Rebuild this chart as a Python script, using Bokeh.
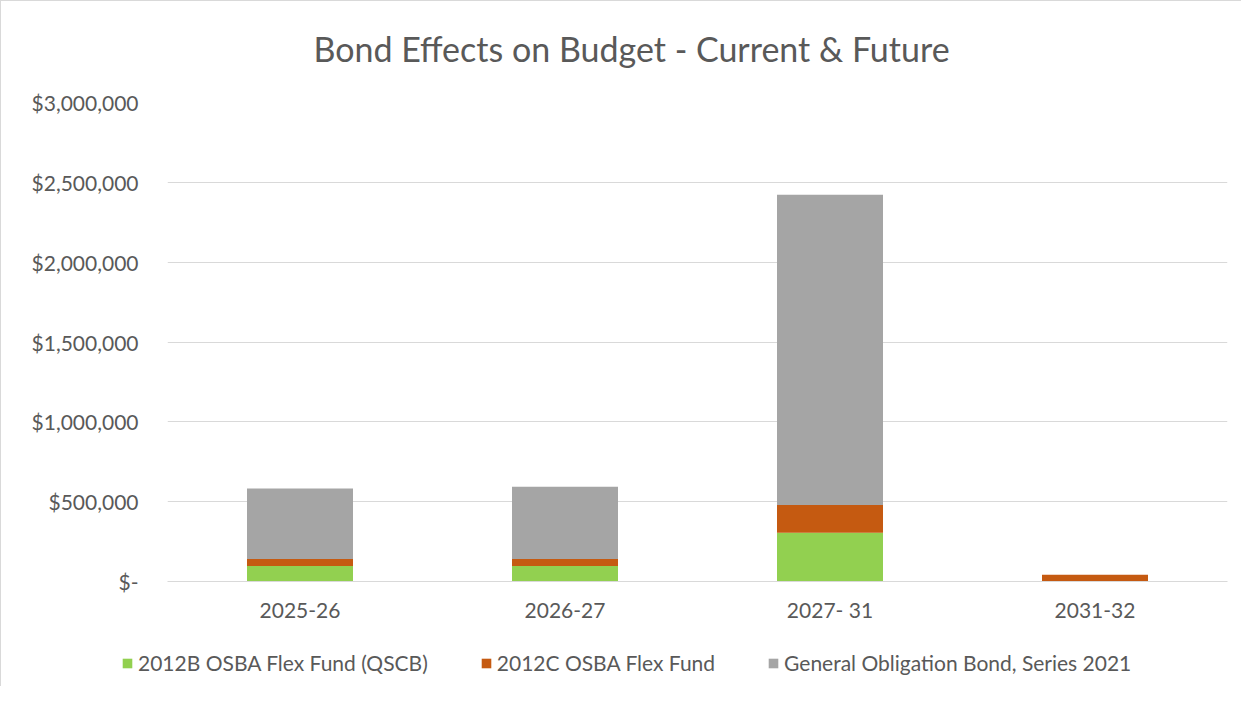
from bokeh.plotting import figure
from bokeh.layouts import column
from bokeh.models import FixedTicker, Legend, LegendItem, Range1d, Label
from bokeh.embed import file_html
from bokeh.resources import INLINE

# ---- data ----
title_text = "Bond Effects on Budget - Current & Future"
periods = ["2025-26", "2026-27", "2027- 31", "2031-32"]
flex_2012b = [97000, 97000, 305000, 0]
flex_2012c = [44000, 44000, 174000, 43000]
go_2021 = [441000, 453000, 1943000, 0]
series_names = ["2012B OSBA Flex Fund (QSCB)", "2012C OSBA Flex Fund",
                "General Obligation Bond, Series 2021"]
series_colors = ["#92D050", "#C55A11", "#A5A5A5"]
y_ticks = [0, 500000, 1000000, 1500000, 2000000, 2500000, 3000000]
y_tick_labels = ["$-", "$500,000", "$1,000,000", "$1,500,000",
                 "$2,000,000", "$2,500,000", "$3,000,000"]

FONT = "Lato"
TXT = "#595959"
W = 1240

source = dict(period=periods, b=flex_2012b, c=flex_2012c, g=go_2021)

# ---- title strip ----
tf = figure(width=W, height=80, output_backend="svg", toolbar_location=None,
            x_axis_type=None, y_axis_type=None,
            min_border_left=0, min_border_right=0,
            min_border_top=0, min_border_bottom=0)
tf.outline_line_color = None
tf.xgrid.grid_line_color = None
tf.ygrid.grid_line_color = None
tf.add_layout(Label(x=630, y=33, x_units="screen", y_units="screen",
                    text=title_text, text_align="center",
                    text_baseline="middle", text_font=FONT,
                    text_font_size="34px", text_color=TXT))

# ---- main chart ----
p = figure(x_range=periods, y_range=Range1d(0, 3000000),
           width=W, height=565, output_backend="svg",
           toolbar_location=None,
           min_border_left=166, min_border_right=14,
           min_border_top=21, min_border_bottom=65)

renderers = p.vbar_stack(["b", "c", "g"], x="period", width=0.4,
                         color=series_colors, source=source,
                         line_color=None)

p.yaxis.ticker = FixedTicker(ticks=y_ticks)
p.yaxis.major_label_overrides = {t: l for t, l in zip(y_ticks, y_tick_labels)}
p.yaxis.axis_line_color = None
p.yaxis.major_tick_line_color = None
p.yaxis.minor_tick_line_color = None
p.yaxis.major_label_standoff = 23
p.yaxis.major_label_text_font = FONT
p.yaxis.major_label_text_font_size = "21px"
p.yaxis.major_label_text_color = TXT

p.xaxis.axis_line_color = "#D9D9D9"
p.xaxis.major_tick_line_color = None
p.xaxis.minor_tick_line_color = None
p.xaxis.major_label_standoff = 9
p.xaxis.major_label_text_font = FONT
p.xaxis.major_label_text_font_size = "21px"
p.xaxis.major_label_text_color = TXT

p.xgrid.grid_line_color = None
p.ygrid.grid_line_color = "#D9D9D9"
p.ygrid.ticker = FixedTicker(ticks=y_ticks)
p.outline_line_color = None
p.x_range.range_padding = 0

# ---- legend strip ----
# same stacks, hidden; only their legend swatches are shown
lf = figure(x_range=periods, y_range=Range1d(0, 3000000),
            width=W, height=40, output_backend="svg", toolbar_location=None,
            x_axis_type=None, y_axis_type=None,
            min_border_left=0, min_border_right=0,
            min_border_top=0, min_border_bottom=0)
lf.outline_line_color = None
lf.xgrid.grid_line_color = None
lf.ygrid.grid_line_color = None
leg_renderers = lf.vbar_stack(["b", "c", "g"], x="period", width=0.4,
                              color=series_colors, source=source,
                              line_color=None)
for r in leg_renderers:
    r.visible = False
legend = Legend(items=[LegendItem(label=n, renderers=[r])
                       for n, r in zip(series_names, leg_renderers)],
                orientation="horizontal", location=(120, 11),
                label_text_font=FONT, label_text_font_size="21px",
                label_text_color=TXT, glyph_width=12, glyph_height=12,
                label_standoff=5, spacing=52, border_line_color=None,
                background_fill_alpha=0, inactive_fill_alpha=0,
                margin=0, padding=0)
lf.add_layout(legend)

layout = column(column(tf), p, column(lf), spacing=0)
layout.styles = {"border-left": "1px solid #D9D9D9", "border-top": "1px solid #D9D9D9"}

open("out.html", "w").write(file_html(layout, INLINE))
